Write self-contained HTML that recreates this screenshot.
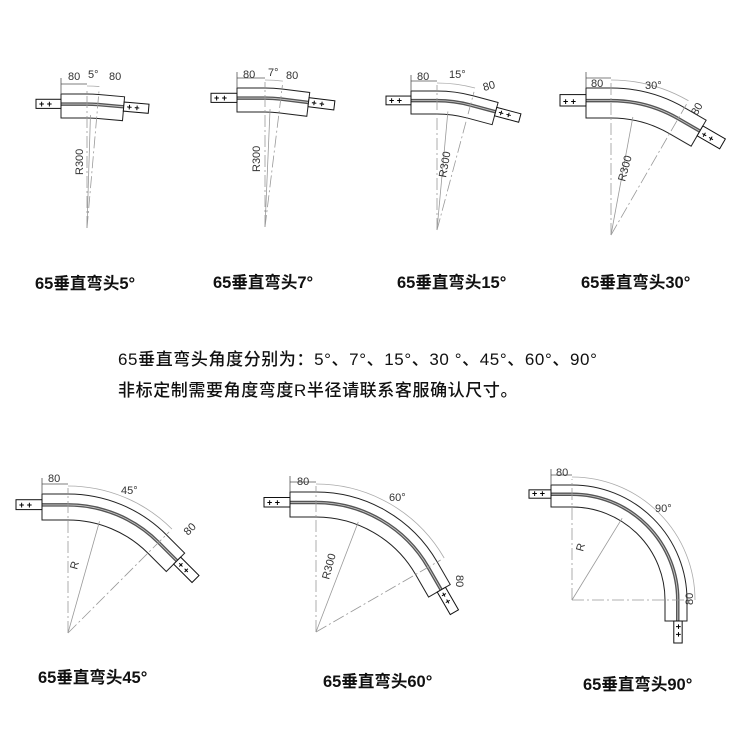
<!DOCTYPE html>
<html><head><meta charset="utf-8"><style>
html,body{margin:0;padding:0;background:#fff}
svg{display:block}
.cap{font-family:"Liberation Sans","Noto Sans CJK SC",sans-serif;font-size:16.5px;font-weight:bold;fill:#111}
.mid{font-family:"Liberation Sans","Noto Sans CJK SC",sans-serif;font-size:17px;font-weight:500;fill:#111;letter-spacing:0.6px}
.dim{font-family:"Liberation Sans",sans-serif;font-size:11px;fill:#333}
</style></head><body>
<svg id="s" width="750" height="750" viewBox="0 0 750 750" xmlns="http://www.w3.org/2000/svg">
<g id="g"></g>
<text class="dim" x="68" y="80">80</text><text class="dim" x="88" y="78">5°</text><text class="dim" x="109" y="80">80</text>
<text class="dim" transform="translate(83,175) rotate(-90)">R300</text>
<text class="dim" x="243" y="78">80</text><text class="dim" x="268" y="76">7°</text><text class="dim" x="286" y="79">80</text>
<text class="dim" transform="translate(260,172) rotate(-90)">R300</text>
<text class="dim" x="417" y="80">80</text><text class="dim" x="449" y="78">15°</text><text class="dim" transform="translate(484,91) rotate(-15)">80</text>
<text class="dim" transform="translate(446,178) rotate(-80)">R300</text>
<text class="dim" x="591" y="87">80</text><text class="dim" x="645" y="89">30°</text><text class="dim" transform="translate(697,116) rotate(-60)">80</text>
<text class="dim" transform="translate(625,182) rotate(-75)">R300</text>
<text class="dim" x="48" y="482">80</text><text class="dim" x="121" y="494">45°</text><text class="dim" transform="translate(188,536) rotate(-45)">80</text>
<text class="dim" transform="translate(77,570) rotate(-75)">R</text>
<text class="dim" x="297" y="485">80</text><text class="dim" x="389" y="501">60°</text><text class="dim" transform="translate(456,575) rotate(90)">80</text>
<text class="dim" transform="translate(329,580) rotate(-75)">R300</text>
<text class="dim" x="556" y="476">80</text><text class="dim" x="655" y="512">90°</text><text class="dim" transform="translate(693,605) rotate(-90)">80</text>
<text class="dim" transform="translate(583,552) rotate(-75)">R</text>
<text class="cap" x="35" y="289">65垂直弯头5°</text>
<text class="cap" x="213" y="288">65垂直弯头7°</text>
<text class="cap" x="397" y="288">65垂直弯头15°</text>
<text class="cap" x="581" y="288">65垂直弯头30°</text>
<text class="cap" x="38" y="683">65垂直弯头45°</text>
<text class="cap" x="323" y="687">65垂直弯头60°</text>
<text class="cap" x="583" y="690">65垂直弯头90°</text>
<text class="mid" x="118" y="365">65垂直弯头角度分别为：5°、7°、15°、30 °、45°、60°、90°</text>
<text class="mid" x="118" y="396">非标定制需要角度弯度R半径请联系客服确认尺寸。</text>
</svg>
<script>
var g=document.getElementById('g'),o='';
function P(cx,cy,r,a){return [cx+r*Math.sin(a),cy-r*Math.cos(a)];}
function bend(cx,cy,Ro,T,deg,L,tabL){
 var a=deg*Math.PI/180,Ri=Ro-T;
 var s='M'+(cx-L)+','+(cy-Ro)+' L'+cx+','+(cy-Ro);
 var e=P(cx,cy,Ro,a),t=[Math.cos(a),Math.sin(a)];
 s+=' A'+Ro+','+Ro+' 0 0 1 '+e[0]+','+e[1];
 var e2=[e[0]+L*t[0],e[1]+L*t[1]];
 var n=[-Math.sin(a)*T,Math.cos(a)*T];
 s+=' L'+e2[0]+','+e2[1]+' L'+(e2[0]+n[0])+','+(e2[1]+n[1]);
 var ie=P(cx,cy,Ri,a);
 s+=' L'+ie[0]+','+ie[1]+' A'+Ri+','+Ri+' 0 0 0 '+cx+','+(cy-Ri)+' L'+(cx-L)+','+(cy-Ri)+'Z';
 o+='<path d="'+s+'" fill="#fff" stroke="#222" stroke-width="1"/>';
 var rr=Ro-T*0.42,rs=P(cx,cy,rr,a),r2=[rs[0]+L*t[0],rs[1]+L*t[1]];
 var rp='M'+(cx-L)+','+(cy-rr)+' L'+cx+','+(cy-rr)+' A'+rr+','+rr+' 0 0 1 '+rs[0]+','+rs[1]+' L'+r2[0]+','+r2[1];
 o+='<path d="'+rp+'" fill="none" stroke="#555" stroke-width="3.5"/>';
 o+='<path d="'+rp+'" fill="none" stroke="#ccc" stroke-width="0.8"/>';
 var y1=cy-Ro+T*0.22,h=T*0.38;
 o+='<rect x="'+(cx-L-tabL)+'" y="'+y1+'" width="'+tabL+'" height="'+h+'" fill="#fff" stroke="#111"/>';
 o+='<text x="'+(cx-L-tabL+3)+'" y="'+(y1+h-1.5)+'" font-size="9" font-weight="bold" font-family="Liberation Sans">+ +</text>';
 var r3=P(cx,cy,Ro-T*0.22,a),b=[r3[0]+L*t[0],r3[1]+L*t[1]];
 o+='<g transform="translate('+b[0]+','+b[1]+') rotate('+deg+')"><rect x="0" y="0" width="'+tabL+'" height="'+h+'" fill="#fff" stroke="#111"/><text x="3" y="'+(h-1.5)+'" font-size="9" font-weight="bold" font-family="Liberation Sans">+ +</text></g>';
 var eo=P(cx,cy,Ro+4,a),ri=P(cx,cy,Ri+3,a*0.35);
 o+='<line x1="'+cx+'" y1="'+cy+'" x2="'+cx+'" y2="'+(cy-Ro-6)+'" stroke="#999" stroke-width="0.8" stroke-dasharray="12,3,2,3"/>';
 o+='<line x1="'+cx+'" y1="'+cy+'" x2="'+eo[0]+'" y2="'+eo[1]+'" stroke="#999" stroke-width="0.8" stroke-dasharray="12,3,2,3"/>';
 o+='<line x1="'+cx+'" y1="'+cy+'" x2="'+ri[0]+'" y2="'+ri[1]+'" stroke="#999" stroke-width="0.8"/>';
 var da=Ro+8,d1=P(cx,cy,da,0),d2=P(cx,cy,da,a);
 o+='<path d="M'+d1[0]+','+d1[1]+' A'+da+','+da+' 0 0 1 '+d2[0]+','+d2[1]+'" fill="none" stroke="#aaa" stroke-width="0.8"/>';
 o+='<line x1="'+(cx-L)+'" y1="'+(cy-Ro-10)+'" x2="'+cx+'" y2="'+(cy-Ro-10)+'" stroke="#555" stroke-width="0.8"/>';
 o+='<line x1="'+(cx-L)+'" y1="'+(cy-Ro-16)+'" x2="'+(cx-L)+'" y2="'+(cy-Ro)+'" stroke="#555" stroke-width="0.8"/>';
}
bend(87,228,134,24,5,26,25);
bend(265,227,139,24,7,28,26);
bend(437,230,139,23,15,26,25);
bend(611,235,147,30,30,25,26);
bend(68,633,139,26,45,26,26);
bend(316,632,140,25,60,26,26);
bend(572,600,115,22,90,21,22);
g.innerHTML=o;
</script>
</body></html>
